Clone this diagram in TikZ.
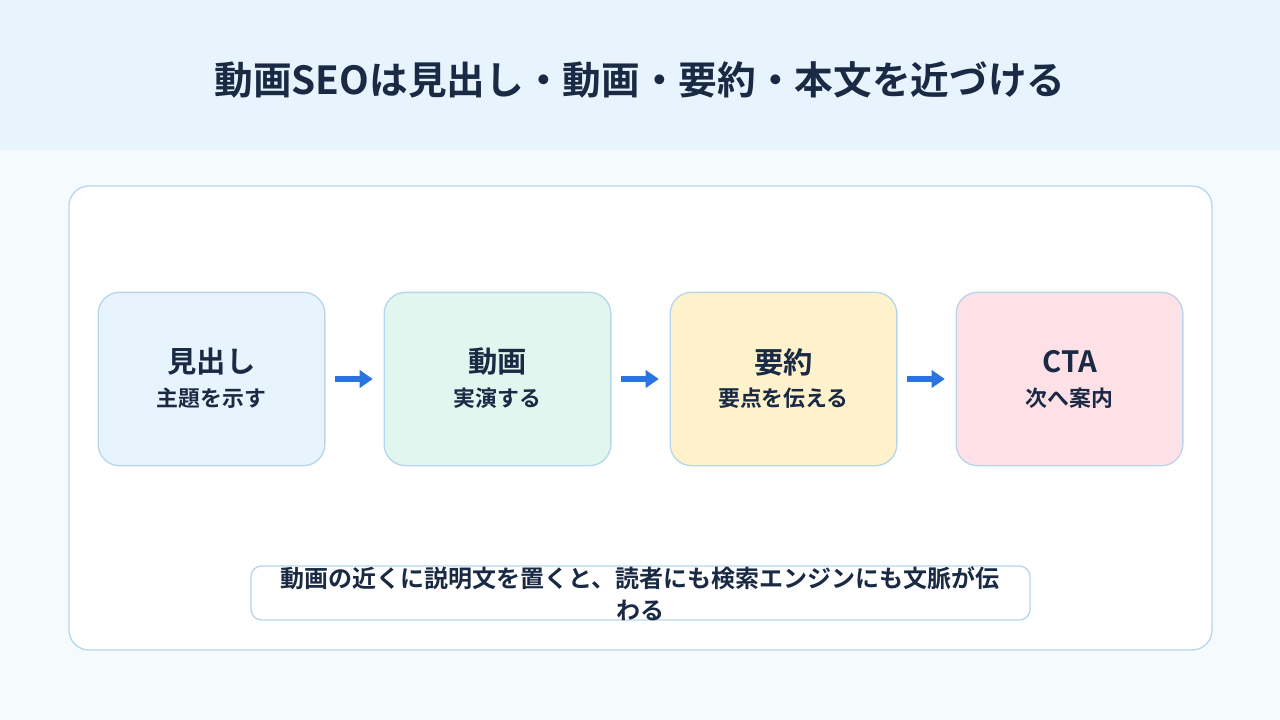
\documentclass[tikz,border=0pt]{standalone}
\usepackage{fontspec}
\setmainfont{Noto Sans CJK JP}[BoldFont={* Bold}]
\newfontfamily\jpb{Noto Sans CJK JP Bold}
\usetikzlibrary{arrows.meta}
\definecolor{ink}{HTML}{1A2A44}
\definecolor{hdr}{HTML}{E8F4FD}
\definecolor{bg}{HTML}{F5FAFD}
\definecolor{edge}{HTML}{B7D6EA}
\definecolor{arr}{HTML}{2B74E0}
\definecolor{fa}{HTML}{E8F4FD}
\definecolor{fb}{HTML}{E0F6EE}
\definecolor{fc}{HTML}{FEF2CC}
\definecolor{fd}{HTML}{FEE1E6}
\begin{document}
\begin{tikzpicture}[x=0.75pt,y=-0.75pt,
  stepbox/.style={draw=edge,line width=1pt,rounded corners=16pt,minimum width=170pt,minimum height=130pt,align=center,text=ink,font=\jpb},
  flow/.style={-{Triangle[length=10pt,width=13pt]},arr,line width=4pt}]
\useasboundingbox (0,0) rectangle (1280,720);
\fill[bg] (0,0) rectangle (1280,720);
\fill[hdr] (0,0) rectangle (1280,150);
\node[text=ink,font=\jpb\fontsize{29pt}{34pt}\selectfont] (title) at (640,80) {動画SEOは見出し・動画・要約・本文を近づける};
\draw[edge,fill=white,line width=1pt,rounded corners=15pt] (69,186) rectangle (1212,650);
\foreach \n/\x/\f/\t/\s in {a/211.5/fa/見出し/主題を示す, b/497.5/fb/動画/実演する, c/783.5/fc/要約/要点を伝える, d/1069.5/fd/CTA/次へ案内}{
  \node[stepbox,fill=\f] (\n) at (\x,379) {};
  \node[text=ink,font=\jpb\fontsize{22pt}{26pt}\selectfont] (\n t) at (\x,362) {\t};
  \node[text=ink,font=\jpb\fontsize{16.4pt}{19pt}\selectfont] (\n s) at (\x,398) {\s};
}
\foreach \p/\q in {a/b,b/c,c/d}{\draw[flow] ([xshift=7pt]\p.east) -- ([xshift=-8pt]\q.west);}
\draw[edge,fill=white,line width=1pt,rounded corners=8pt] (251,566) rectangle (1030,620);
\node[text=ink,font=\jpb\fontsize{18pt}{24pt}\selectfont,align=center] (note) at (640,594) {動画の近くに説明文を置くと、読者にも検索エンジンにも文脈が伝\\わる};
\end{tikzpicture}
\end{document}
